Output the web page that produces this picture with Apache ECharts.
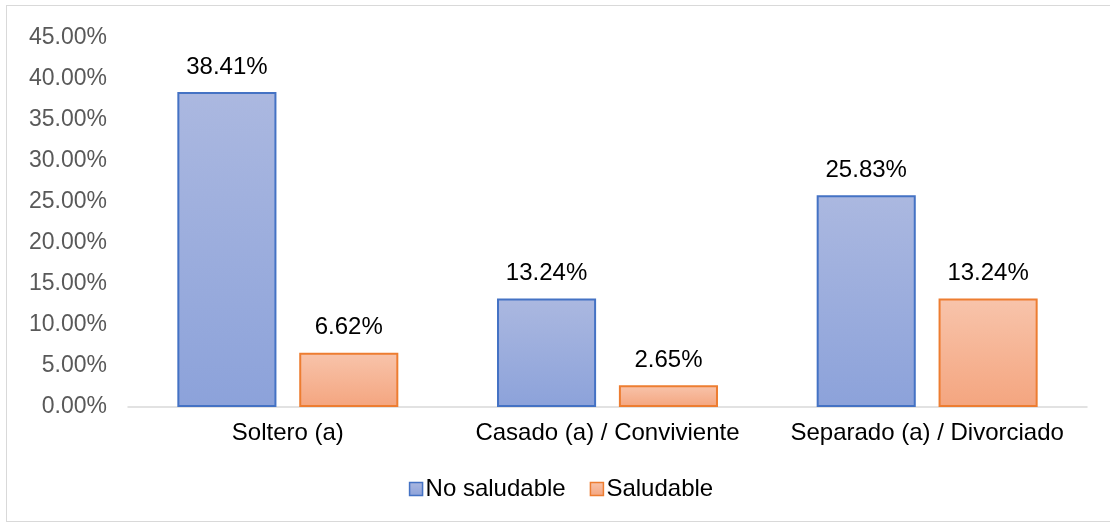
<!DOCTYPE html>
<html>
<head>
<meta charset="UTF-8">
<title></title>
<style>
	* { margin: 0; padding: 0; }
	body { background: #fff; }
	#main {
		position: absolute;
		left: 6px;
		top: 5px;
		width: 1110px;
		height: 517px;
		border: 1px solid #d9d9d9;
		box-sizing: border-box;
	}
</style>
<script src="https://cdn.jsdelivr.net/npm/echarts@6/dist/echarts.min.js"></script>
</head>
<body>
<div id="main"></div>
<script>
var categories = ['Soltero (a)', 'Casado (a) / Conviviente', 'Separado (a) / Divorciado'];
var noSaludable = [38.41, 13.24, 25.83];
var saludable = [6.62, 2.65, 13.24];
var yTicks = [0, 5, 10, 15, 20, 25, 30, 35, 40, 45];

function grad(top, bottom) {
	return new echarts.graphic.LinearGradient(0, 0, 0, 1, [
		{offset: 0, color: top},
		{offset: 1, color: bottom}
	]);
}

var myChart = echarts.init(document.getElementById('main'));
var font = 'Liberation Sans, Arial, sans-serif';
var option = {
	animation: false,
	textStyle: {fontFamily: font},
	grid: {left: 121, right: 28, top: 32, bottom: 114, containLabel: false},
	legend: {
		bottom: 15,
		left: 'center',
		icon: 'rect',
		itemWidth: 13,
		itemHeight: 13,
		itemGap: 24,
		itemStyle: {borderWidth: 1.5},
		textStyle: {fontSize: 24, color: '#000', fontFamily: font, padding: [0, 0, 0, -2]},
		data: ['No saludable', 'Saludable']
	},
	xAxis: {
		type: 'category',
		data: categories,
		axisLine: {lineStyle: {color: '#d9d9d9', width: 1.5}},
		axisTick: {show: false},
		axisLabel: {fontSize: 24, color: '#000', margin: 14, fontFamily: font, interval: 0, hideOverlap: false}
	},
	yAxis: {
		type: 'value',
		min: yTicks[0],
		max: yTicks[yTicks.length - 1],
		interval: 5,
		splitLine: {show: false},
		axisLine: {show: false},
		axisTick: {show: false},
		axisLabel: {
			fontSize: 23, color: '#595959', margin: 21, fontFamily: font,
			formatter: function (v) { return v.toFixed(2) + '%'; }
		}
	},
	series: [
		{
			name: 'No saludable',
			type: 'bar',
			data: noSaludable,
			barWidth: '31%',
			barGap: '23%',
			itemStyle: {color: grad('#abb8e0', '#8ca2da'), borderColor: '#4472c4', borderWidth: 2},
			label: {
				show: true, position: 'top', distance: 13, fontSize: 24, color: '#000', fontFamily: font,
				formatter: function (p) { return p.value.toFixed(2) + '%'; }
			}
		},
		{
			name: 'Saludable',
			type: 'bar',
			data: saludable,
			barWidth: '31%',
			itemStyle: {color: grad('#f8c4ab', '#f4a57f'), borderColor: '#ed7d31', borderWidth: 2},
			label: {
				show: true, position: 'top', distance: 13, fontSize: 24, color: '#000', fontFamily: font,
				formatter: function (p) { return p.value.toFixed(2) + '%'; }
			}
		}
	]
};
myChart.setOption(option);
</script>
</body>
</html>
